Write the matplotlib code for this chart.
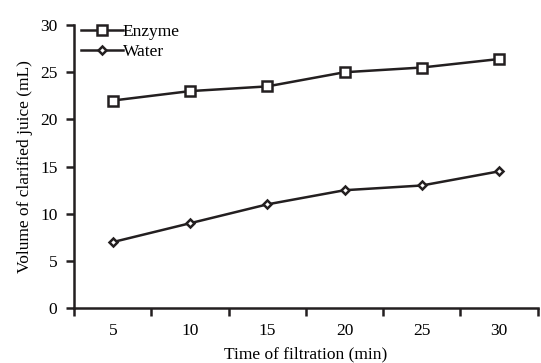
import numpy as np
import matplotlib.pyplot as plt

times = ['5', '10', '15', '20', '25', '30']
enzyme = [22, 23, 23.5, 25, 25.5, 26.4]
water = [7, 9, 11, 12.5, 13, 14.5]

plt.rcParams['font.family'] = ['Liberation Serif', 'DejaVu Serif']
fs = 12.5

fig = plt.figure(figsize=(5.41, 3.63), dpi=100)
ax = fig.add_axes([0.137, 0.151, 0.857, 0.780])

pos = np.arange(len(times)) + 0.5
ax.plot(pos, enzyme, color='#231f20', lw=1.8, marker='s', markersize=6.5,
        markerfacecolor='white', markeredgewidth=1.8, label='Enzyme')
ax.plot(pos, water, color='#231f20', lw=1.8, marker='D', markersize=4.5,
        markerfacecolor='white', markeredgewidth=1.8, label='Water')

ax.set_xlim(0, len(times))
ax.set_ylim(0, 30)
ax.set_yticks(range(0, 31, 5))
ax.set_xticks(range(0, len(times) + 1))
ax.set_xticklabels([])
ax.set_xticks(pos, minor=True)
ax.set_xticklabels(times, minor=True)
ax.tick_params(axis='x', which='minor', length=0, pad=11, labelsize=fs)
ax.tick_params(axis='x', which='major', length=6, width=1.8, direction='out',
               color='#231f20')
ax.tick_params(axis='y', length=6, width=1.8, direction='out', pad=6,
               labelsize=fs, color='#231f20')

for s in ['top', 'right']:
    ax.spines[s].set_visible(False)
for s in ['left', 'bottom']:
    ax.spines[s].set_linewidth(1.8)
    ax.spines[s].set_color('#231f20')

ax.set_xlabel('Time of filtration (min)', fontsize=fs, labelpad=5)
ax.set_ylabel('Volume of clarified juice (mL)', fontsize=fs, labelpad=5)

ax.legend(loc='upper left', frameon=False, handlelength=2.4, handletextpad=0.0,
          borderaxespad=0.0, borderpad=0.0, labelspacing=0.25, fontsize=fs,
          bbox_to_anchor=(0.015, 1.005))

fig.savefig('out.png', dpi=100)
